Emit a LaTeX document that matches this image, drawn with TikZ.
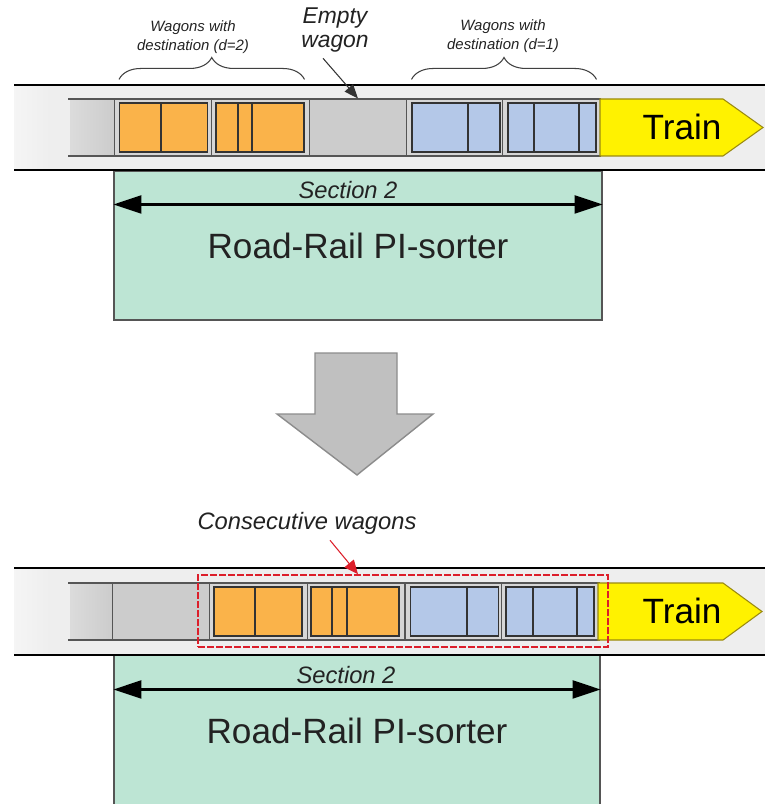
\documentclass[tikz,border=0pt]{standalone}
\usepackage{fontspec}
\setmainfont{Liberation Sans}
\usetikzlibrary{arrows.meta, positioning, decorations.pathreplacing}
\definecolor{TrackGray}{HTML}{EEEEEE}
\definecolor{StripGray}{HTML}{CCCCCC}
\definecolor{WagonGray}{HTML}{D6D6D6}
\definecolor{EdgeGray}{HTML}{555555}
\definecolor{CargoOrange}{HTML}{FAB34A}
\definecolor{CargoBlue}{HTML}{B4C8E8}
\definecolor{SorterGreen}{HTML}{BDE5D4}
\definecolor{TrainYellow}{HTML}{FFF200}
\definecolor{TrainEdge}{HTML}{9A8A10}
\definecolor{BigArrowGray}{HTML}{C0C0C0}
\definecolor{BigArrowEdge}{HTML}{8C8C8C}
\definecolor{MarkRed}{HTML}{DC1E2A}
\definecolor{TextDark}{HTML}{222222}
\tikzset{
    % Wagon and cargo styles
    wagonbox/.style={
        rectangle,
        draw=EdgeGray,
        fill=WagonGray,
        line width=0.6pt,
        minimum width=19.5mm,
        minimum height=11.4mm,
        inner sep=0pt
    },
    emptybox/.style={
        wagonbox,
        fill=StripGray
    },
    cargobox/.style={
        rectangle,
        draw=black!80,
        line width=0.6pt,
        minimum width=17.6mm,
        minimum height=9.8mm,
        inner sep=0pt
    },
    orangebox/.style={cargobox, fill=CargoOrange},
    bluebox/.style={cargobox, fill=CargoBlue},
    cargoline/.style={draw=black!80, line width=0.6pt},
    % Track styles
    trackline/.style={draw=black, line width=0.6pt},
    stripline/.style={draw=EdgeGray, line width=0.6pt},
    trainshape/.style={fill=TrainYellow, draw=TrainEdge, line width=0.6pt},
    traintext/.style={font=\fontsize{20}{24}\selectfont, text=black},
    % Sorter styles
    sorterbox/.style={
        rectangle,
        draw=EdgeGray,
        fill=SorterGreen,
        line width=0.6pt,
        inner sep=0pt,
        font=\fontsize{20}{24}\selectfont,
        text=TextDark
    },
    secarrow/.style={
        {Triangle[length=5.6mm,width=3.6mm]}-{Triangle[length=5.6mm,width=3.6mm]},
        line width=1.3pt
    },
    % Label styles
    seclabel/.style={font=\itshape\fontsize{13.5}{16}\selectfont, text=TextDark},
    smalllabel/.style={font=\itshape\fontsize{8.5}{10.5}\selectfont, align=center, text=TextDark},
    biglabel/.style={font=\itshape\fontsize{13}{13.5}\selectfont, align=center, text=TextDark},
    wagonbrace/.style={
        decorate,
        decoration={brace, amplitude=4.4mm},
        draw=black!75,
        line width=0.6pt
    },
    pointer/.style={-{Triangle[length=2.8mm,width=2.2mm]}, draw=black!80, line width=0.6pt},
    redpointer/.style={-{Triangle[length=2.8mm,width=2.4mm]}, draw=MarkRed, line width=0.6pt},
    consbox/.style={
        rectangle,
        draw=MarkRed,
        dash pattern=on 1.4mm off 0.4mm,
        line width=0.9pt,
        minimum width=82mm,
        minimum height=14.4mm,
        inner sep=0pt
    }
}

\begin{document}
\begin{tikzpicture}[x=0.2mm, y=-0.2mm]
    \useasboundingbox (0,0) rectangle (765,804);
    \clip (0,0) rectangle (765,804);

    % ===== Before: track with wagons =====
    \node[sorterbox, minimum width=97.6mm, minimum height=29.8mm] (sort1) at (358,245.5) {Road-Rail PI-sorter};
    \fill[TrackGray] (14,85) rectangle (765,170);
    \shade[left color=TrackGray!60, right color=TrackGray] (14,85) rectangle (50,170);
    \draw[trackline] (14,85) -- (765,85) (14,170) -- (765,170);

    % Tail of the wagon strip
    \shade[left color=StripGray!70, right color=StripGray] (70,99) rectangle (114,156);
    \draw[stripline] (68,99) -- (114,99) (68,156) -- (114,156);

    % Wagons (d=2)
    \node[wagonbox] (w1t) at (163,127.5) {};
    \node[orangebox] (c1t) at (163.5,127.5) {};
    \draw[cargoline] (161,103) -- (161,152);
    \node[wagonbox] (w2t) at (260.5,127.5) {};
    \node[orangebox] (c2t) at (260,127.5) {};
    \draw[cargoline] (238,103) -- (238,152) (252,103) -- (252,152);

    % Empty wagon
    \node[emptybox] (w3t) at (358,127.5) {};

    % Wagons (d=1)
    \node[wagonbox] (w4t) at (455,127.5) {};
    \node[bluebox] (c4t) at (456,127.5) {};
    \draw[cargoline] (468,103) -- (468,152);
    \node[wagonbox] (w5t) at (551.5,127.5) {};
    \node[bluebox] (c5t) at (552,127.5) {};
    \draw[cargoline] (534,103) -- (534,152) (579,103) -- (579,152);

    % Train
    \draw[trainshape] (600,99) -- (723,99) -- (763,127.5) -- (723,156) -- (600,156) -- cycle;
    \node[traintext] (train1) at (682,127) {Train};

    % Braces and labels
    \draw[wagonbrace] ([yshift=4.6mm]c1t.north west) -- ([yshift=4.6mm]c2t.north east);
    \node[smalllabel] (d2lbl) at (193,37) {Wagons with\\destination (d=2)};
    \draw[wagonbrace] ([yshift=4.6mm]c4t.north west) -- ([yshift=4.6mm]c5t.north east);
    \node[smalllabel] (d1lbl) at (503,36) {Wagons with\\destination (d=1)};
    \node[biglabel] (emptylbl) at (335,30) {Empty\\wagon};
    \draw[pointer] ([xshift=-2.4mm]emptylbl.south) -- (w3t.north);

    % Section arrow
    \draw[secarrow] ([yshift=-6.8mm]sort1.north west) -- ([yshift=-6.8mm]sort1.north east);
    \node[seclabel] (sec1) at (348,190) {Section 2};

    % ===== Sorting step =====
    \draw[fill=BigArrowGray, draw=BigArrowEdge, line width=0.8pt]
        (315,353) -- (397,353) -- (397,414) -- (433,414) -- (357,475)
        -- (277,414) -- (315,414) -- cycle;

    % ===== After: consecutive wagons =====
    \node[sorterbox, minimum width=97.2mm, minimum height=30.4mm] (sort2) at (357,731) {Road-Rail PI-sorter};
    \fill[TrackGray] (14,568) rectangle (765,655);
    \shade[left color=TrackGray!60, right color=TrackGray] (14,568) rectangle (50,655);
    \draw[trackline] (14,568) -- (765,568) (14,655) -- (765,655);

    % Tail of the wagon strip
    \shade[left color=StripGray!70, right color=StripGray] (70,583) rectangle (112,640);
    \draw[stripline] (68,583) -- (112,583) (68,640) -- (112,640);

    % Empty wagon
    \node[emptybox] (w1b) at (161,611.5) {};

    % Wagons (d=2)
    \node[wagonbox] (w2b) at (258.5,611.5) {};
    \node[orangebox] (c2b) at (258,611.5) {};
    \draw[cargoline] (255,587) -- (255,636);
    \node[wagonbox] (w3b) at (356,611.5) {};
    \node[orangebox] (c3b) at (355,611.5) {};
    \draw[cargoline] (332,587) -- (332,636) (347,587) -- (347,636);

    % Wagons (d=1)
    \node[wagonbox] (w4b) at (454,611.5) {};
    \node[bluebox] (c4b) at (454.5,611.5) {};
    \draw[cargoline] (467,587) -- (467,636);
    \node[wagonbox] (w5b) at (550.5,611.5) {};
    \node[bluebox] (c5b) at (550,611.5) {};
    \draw[cargoline] (533,587) -- (533,636) (577,587) -- (577,636);

    % Train
    \draw[trainshape] (598,583) -- (723,583) -- (762,611.5) -- (723,640) -- (598,640) -- cycle;
    \node[traintext] (train2) at (682,611) {Train};

    % Consecutive block
    \node[consbox] (cons) at (403,611) {};
    \node[seclabel] (conslbl) at (307,523) {Consecutive wagons};
    \draw[redpointer] ([xshift=4.6mm]conslbl.south) -- ([xshift=-9mm]cons.north);

    % Section arrow
    \draw[secarrow] ([yshift=-7mm]sort2.north west) -- ([yshift=-7mm]sort2.north east);
    \node[seclabel] (sec2) at (346,675) {Section 2};
\end{tikzpicture}
\end{document}
